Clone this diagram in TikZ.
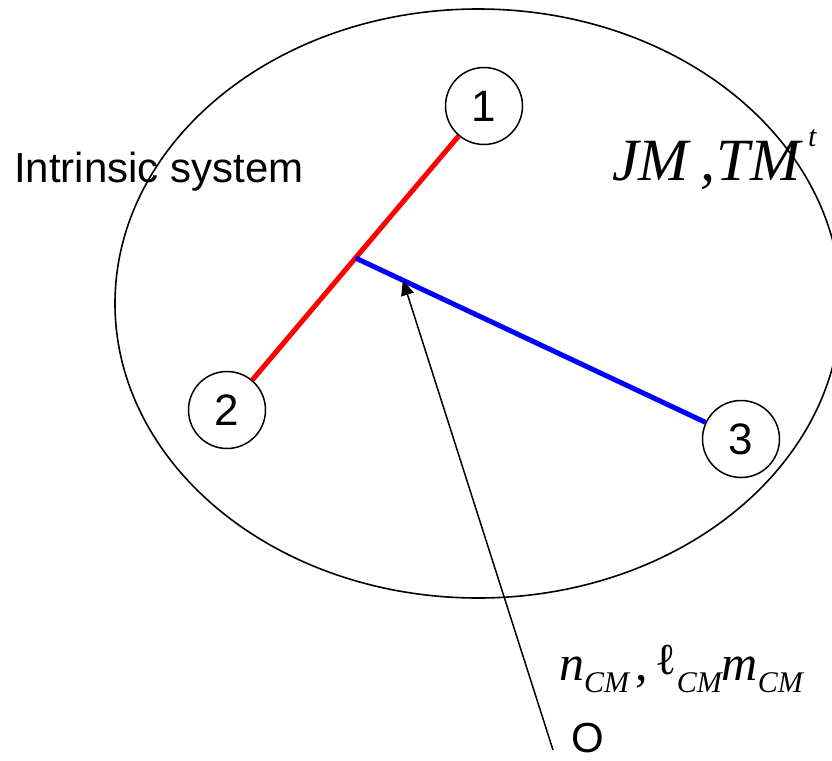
\documentclass[tikz,border=0pt]{standalone}
\usepackage{fontspec}
\setmainfont{Liberation Sans}
\newfontfamily\tnr{Liberation Serif}
\usetikzlibrary{arrows.meta, calc}

\newcommand{\cmsub}{\raisebox{-12pt}{\fontsize{30}{30}\selectfont\itshape CM}}

\begin{document}
\begin{tikzpicture}[x=1pt, y=-1pt, >={Triangle[length=15pt, width=13pt]},
  particle/.style={circle, draw, line width=1.5pt, minimum size=77pt, inner sep=0pt, font=\fontsize{44}{44}\selectfont},
  caption/.style={anchor=base west, inner sep=0pt}]
  \useasboundingbox (0,0) rectangle (832,760);
  \draw[line width=1.6pt] (478,303.5) ellipse [x radius=363, y radius=294.5];
  \node[particle] (p1) at (484,106) {1};
  \node[particle] (p2) at (227,410) {2};
  \node[particle] (p3) at (741,439) {3};
  \coordinate (cm12) at ($(p1)!0.5!(p2)$);
  \coordinate (tip) at ($(cm12)!0.123!(p3)$);
  \coordinate (origin) at (553,750);
  \draw[red, line width=5pt] (p1) -- (p2);
  \draw[blue, line width=5pt] (cm12) -- (p3);
  \draw[->, line width=1.5pt] (origin) -- (tip);
  \node[caption, font=\fontsize{42}{42}\selectfont] (title) at (14,182) {Intrinsic system};
  \node[caption, font=\fontsize{42}{42}\selectfont] (olabel) at (571,752) {O};
  \node[caption, font=\tnr\itshape\fontsize{60}{60}\selectfont] (jtlabel) at (612,180)
    {JM\hspace{12pt},\hspace{1pt}TM\hspace{8pt}\raisebox{34pt}{\fontsize{30}{30}\selectfont t}};
  \node[caption, font=\tnr\fontsize{50}{50}\selectfont] (nlabel) at (559,680)
    {\textit{n}\cmsub\hspace{6pt},\hspace{8pt}\raisebox{6pt}{\fontsize{44}{44}\selectfont ℓ}\cmsub\textit{m}\cmsub};
\end{tikzpicture}
\end{document}
